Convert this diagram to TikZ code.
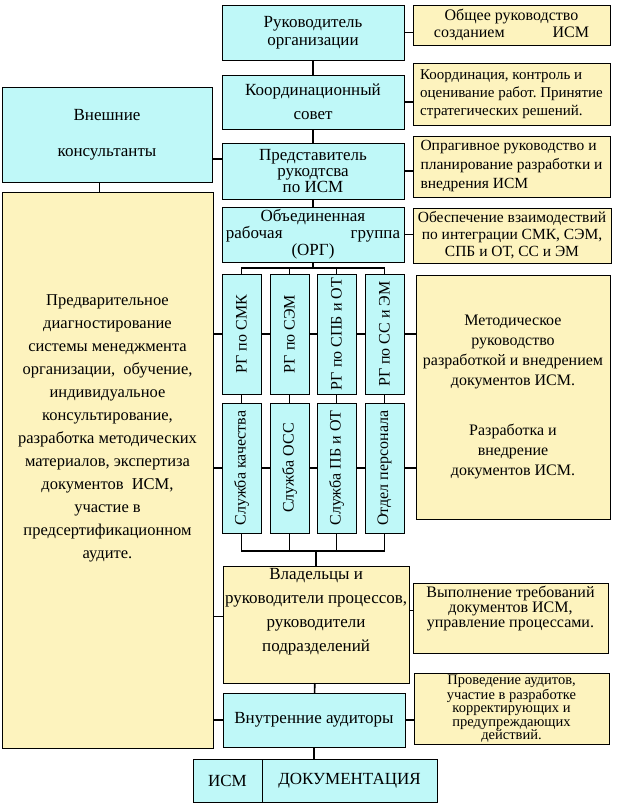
\documentclass[tikz,border=0pt]{standalone}
\usepackage{fontspec}
\setmainfont{Liberation Serif}
\newfontfamily\timesfont{Liberation Serif}
\usepackage{graphicx}
\usetikzlibrary{positioning,calc}
\definecolor{boxcyan}{RGB}{191,248,248}
\definecolor{boxyellow}{RGB}{253,243,190}
\frenchspacing

\begin{document}
\begin{tikzpicture}[x=1pt, y=-1pt,
  box/.style={draw, line width=0.9pt, inner sep=2pt, outer sep=0pt, anchor=north west, align=center, font=\timesfont\fontsize{17}{18}\selectfont},
  cbox/.style={box, fill=boxcyan},
  ybox/.style={box, fill=boxyellow},
  note/.style={ybox, font=\timesfont\fontsize{15.5}{18}\selectfont},
  vbox/.style={cbox, minimum width=39pt, font=\timesfont\fontsize{16}{17}\selectfont},
  link/.style={line width=1.6pt}
]
\fill[white] (0,0) rectangle (624,812);
\useasboundingbox (0,0) rectangle (624,812);

% middle column and notes
\node[cbox, minimum width=182pt, minimum height=55pt] (lead) at (222,5) {Руководитель\\организации};
\node[note, minimum width=197pt, minimum height=40pt, font=\timesfont\fontsize{16}{17}\selectfont] (leadnote) at (413,5) {Общее руководство\\созданием\hspace{3em}ИСМ};
\node[cbox, minimum width=182pt, minimum height=54pt, font=\timesfont\fontsize{17}{24}\selectfont] (council) at (222,75) {Координационный\\совет};
\node[note, align=left, minimum width=197pt, minimum height=62pt, inner sep=1pt, font=\timesfont\fontsize{15}{18}\selectfont] (councilnote) at (413,63) {Координация, контроль и\\оценивание работ. Принятие\\стратегических решений.};
\node[cbox, minimum width=210pt, minimum height=95pt, font=\timesfont\fontsize{17}{36}\selectfont] (consult) at (2,87) {Внешние\\консультанты};
\node[cbox, minimum width=182pt, minimum height=56pt, font=\timesfont\fontsize{17}{16}\selectfont] (rep) at (222,143) {Представитель\\рукодтсва\\по ИСМ};
\node[note, align=left, minimum width=197pt, minimum height=61pt, inner sep=1pt, font=\timesfont\fontsize{15.5}{19}\selectfont] (repnote) at (413,136) {Опрагивное руководство и\\планирование разработки и\\внедрения ИСМ};
\node[cbox, minimum width=182pt, minimum height=55pt, font=\timesfont\fontsize{17}{17}\selectfont] (org) at (222,207) {Объединенная\\рабочая\hspace{4em}группа\\(ОРГ)};
\node[note, minimum width=198pt, minimum height=55pt, font=\timesfont\fontsize{15.5}{17}\selectfont] (orgnote) at (413,208) {Обеспечение взаимодествий\\по интеграции СМК, СЭМ,\\СПБ и ОТ, СС и ЭМ};

% working groups and services
\foreach \nm/\x/\txt in {rg1/222/{РГ по СМК}, rg2/270/{РГ по СЭМ}, rg3/317/{РГ по СПБ и ОТ}, rg4/365/{РГ по СС и ЭМ}}
  \node[vbox, minimum height=120pt] (\nm) at (\x,274) {\rotatebox{90}{\txt}};
\foreach \nm/\x/\txt in {sl1/222/{Служба качества}, sl2/270/{Служба ОСС}, sl3/317/{Служба ПБ и ОТ}, sl4/365/{Отдел персонала}}
  \node[vbox, minimum height=130pt] (\nm) at (\x,403) {\rotatebox{90}{\txt}};
\node[note, minimum width=194pt, minimum height=244pt, font=\timesfont\fontsize{16}{20}\selectfont] (method) at (416,275) {Методическое\\руководство\\разработкой и внедрением\\документов ИСМ.\\[30pt]Разработка и\\внедрение\\документов ИСМ.};

% consultants' work
\node[ybox, minimum width=211pt, minimum height=556pt, font=\timesfont\fontsize{16.5}{23}\selectfont] (advice) at (2,192) {Предварительное\\диагностирование\\системы менеджмента\\организации,\ \ обучение,\\индивидуальное\\консультирование,\\разработка методических\\материалов, экспертиза\\документов\ \ ИСМ,\\участие в\\предсертификационном\\аудите.\\[57pt]\strut};

% lower part
\node[ybox, minimum width=184pt, minimum height=117pt, font=\timesfont\fontsize{17}{24}\selectfont] (owners) at (223,566) {Владельцы и\\руководители процессов,\\руководители\\подразделений\\[-2pt]\strut};
\node[note, minimum width=195pt, minimum height=70pt, font=\timesfont\fontsize{16}{15}\selectfont] (ownersnote) at (413,583) {Выполнение требований\\документов ИСМ,\\управление процессами.\\[2pt]\strut};
\node[cbox, minimum width=182pt, minimum height=54pt] (audit) at (223,693) {Внутренние аудиторы};
\node[note, minimum width=195pt, minimum height=70pt, font=\timesfont\fontsize{14.5}{13.5}\selectfont] (auditnote) at (414,673) {Проведение аудитов,\\участие в разработке\\корректирующих и\\предупреждающих\\действий.};
\node[cbox, minimum width=69pt, minimum height=43pt] (docsa) at (193,759) {ИСМ};
\node[cbox, minimum width=175pt, minimum height=43pt, right=0pt of docsa] (docsb) {ДОКУМЕНТАЦИЯ};

% connectors
\draw[link] (lead) -- (council);
\draw[link] (lead.east) -- (lead.east -| leadnote.west);
\draw[link] (council.east) -- (council.east -| councilnote.west);
\draw[link] (council) -- (rep);
\draw[link] ([yshift=12pt]rep.west) -- ([yshift=12pt]rep.west -| consult.east);
\draw[link] (rep.east) -- (rep.east -| repnote.west);
\draw[link] (rep) -- (org);
\draw[link] (org.east) -- (org.east -| orgnote.west);
\draw[line width=1pt] ([xshift=-8pt]consult.south) -- ([xshift=-8pt]consult.south |- advice.north);

\draw[link] (org.south) -- ++(0,6) coordinate (topbus);
\draw[link] (rg1.north) |- (topbus) -| (rg4.north);
\draw[link] (rg2.north) -- (rg2.north |- topbus);
\draw[link] (rg3.north) -- (rg3.north |- topbus);

\draw[link] (rg1.west -| advice.east) -- (rg1.west);
\draw[link] (sl1.west -| advice.east) -- (sl1.west);
\foreach \a/\b in {rg1/rg2, rg2/rg3, rg3/rg4, sl1/sl2, sl2/sl3, sl3/sl4}
  \draw[link] (\a.east) -- (\b.west);
\draw[link] (rg4.east) -- (rg4.east -| method.west);
\draw[link] (sl4.east) -- (sl4.east -| method.west);
\foreach \i in {1,...,4}
  \draw[link] (rg\i) -- (sl\i);

\draw[link] (owners.north) -- ++(0,-15) coordinate (lowbus);
\draw[link] (sl1.south) |- (lowbus) -| (sl4.south);
\draw[link] (sl2.south) -- (sl2.south |- lowbus);
\draw[link] (sl3.south) -- (sl3.south |- lowbus);

\draw[link] ([yshift=8pt]owners.west) -- ([yshift=8pt]owners.west -| advice.east);
\draw[link] ([yshift=14pt]owners.east) -- ([yshift=14pt]owners.east -| ownersnote.west);
\draw[link] (owners) -- (audit);
\draw[link] (audit.west) -- (audit.west -| advice.east);
\draw[link] (audit.east) -- (audit.east -| auditnote.west);
\draw[link] (audit.south) -- (audit.south |- docsb.north);
\end{tikzpicture}
\end{document}
